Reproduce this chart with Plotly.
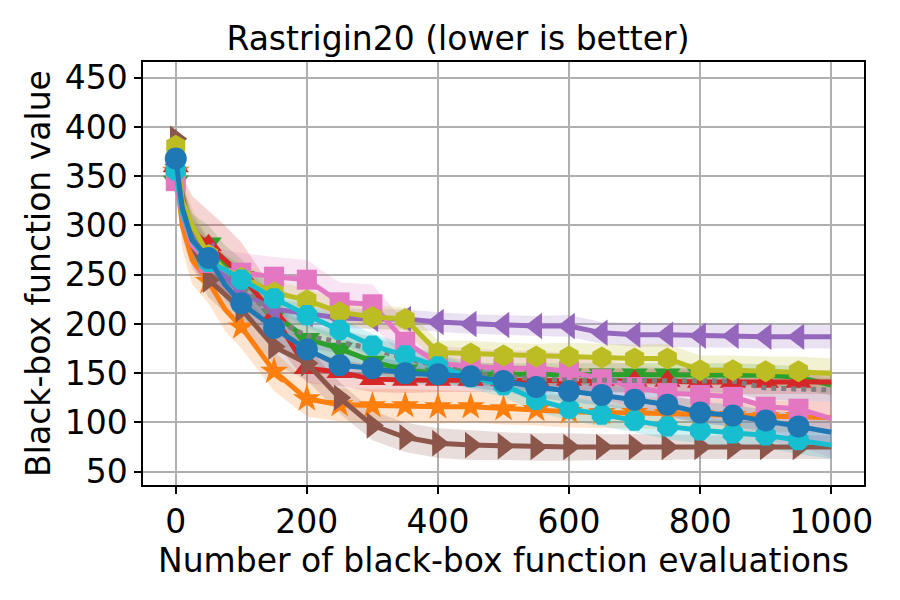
import plotly.graph_objects as go

evals = [0, 10, 25, 50, 75, 100, 150, 200, 250, 300, 350, 400, 450, 500,
         550, 600, 650, 700, 750, 800, 850, 900, 950, 1000]

# mean best-so-far values per method
blue_mean = [368, 318, 285, 267, 240, 221, 196, 174, 158, 155, 150, 149, 147, 142,
             136, 132, 128, 123, 118, 110, 107, 102, 96, 90]
orange_mean = [355, 300, 265, 243, 215, 197, 152, 124, 118, 117, 117, 116, 116, 114,
               113, 111, 110, 110, 109, 108, 107, 106, 106, 105]
green_mean = [345, 318, 292, 282, 262, 248, 210, 185, 175, 162, 153, 150, 149, 149,
              149, 149, 149, 149, 149, 149, 149, 148, 146, 138]
red_mean = [360, 320, 295, 280, 265, 250, 208, 155, 151, 144, 143, 143, 143, 143,
            143, 143, 143, 142, 142, 141, 141, 141, 141, 141]
purple_mean = [362, 322, 295, 270, 248, 232, 215, 210, 206, 205, 205, 202, 200, 199,
               198, 198, 191, 189, 189, 188, 188, 187, 187, 187]
brown_mean = [388, 330, 280, 245, 230, 215, 177, 160, 125, 97, 85, 79, 77, 76,
              75, 75, 75, 75, 75, 75, 75, 75, 75, 75]
pink_mean = [345, 310, 280, 262, 255, 252, 248, 245, 222, 220, 182, 160, 157, 155,
             155, 152, 144, 136, 130, 128, 126, 116, 114, 104]
gray_mean = [355, 318, 290, 272, 255, 240, 205, 188, 182, 175, 165, 157, 150, 147,
             144, 143, 143, 143, 143, 143, 142, 135, 134, 133]
olive_mean = [381, 325, 300, 270, 255, 247, 232, 224, 212, 207, 205, 171, 170, 168,
              167, 167, 166, 165, 165, 153, 153, 152, 152, 150]
cyan_mean = [356, 312, 285, 263, 255, 245, 226, 209, 194, 178, 168, 157, 146, 138,
             123, 114, 108, 102, 96, 92, 89, 87, 82, 77]

# spread (half width of shaded band)
blue_sd = [12, 20, 18, 14, 15, 15, 14, 13, 12, 12, 11, 11, 11, 11, 11, 11, 11, 11, 11, 11, 11, 11, 12, 12]
orange_sd = [12, 25, 25, 22, 22, 22, 20, 18, 17, 17, 17, 17, 16, 16, 16, 16, 16, 16, 16, 16, 16, 16, 16, 16]
green_sd = [12, 20, 20, 18, 18, 18, 16, 14, 13, 12, 12, 11, 11, 11, 11, 11, 11, 11, 11, 11, 11, 11, 11, 11]
red_sd = [12, 30, 35, 35, 35, 33, 25, 15, 14, 13, 13, 12, 12, 12, 12, 12, 12, 12, 12, 12, 12, 12, 12, 12]
purple_sd = [12, 20, 18, 15, 15, 15, 12, 10, 10, 10, 10, 10, 10, 10, 10, 11, 11, 12, 12, 12, 12, 12, 12, 12]
brown_sd = [12, 20, 20, 18, 18, 18, 18, 17, 16, 15, 15, 15, 15, 14, 14, 14, 13, 13, 13, 12, 12, 12, 12, 12]
pink_sd = [12, 25, 25, 22, 20, 20, 20, 20, 20, 20, 20, 18, 18, 18, 18, 18, 20, 22, 25, 28, 30, 35, 38, 40]
gray_sd = [12, 18, 18, 15, 15, 15, 13, 12, 12, 12, 12, 12, 12, 12, 12, 12, 12, 12, 12, 12, 12, 12, 12, 12]
olive_sd = [12, 20, 18, 15, 15, 15, 12, 12, 12, 12, 12, 12, 13, 13, 13, 14, 14, 14, 15, 15, 15, 15, 15, 15]
cyan_sd = [12, 18, 18, 15, 15, 14, 13, 12, 12, 12, 12, 12, 12, 12, 12, 12, 12, 12, 13, 13, 13, 13, 14, 14]

# drawing order (last one on top): name, mean, sd, color, marker, marker size, dash
series = [
    ("orange", orange_mean, orange_sd, "#ff7f0e", "star", 21, "solid"),
    ("green", green_mean, green_sd, "#2ca02c", "triangle-down", 23, "solid"),
    ("red", red_mean, red_sd, "#d62728", "triangle-up", 23, "solid"),
    ("purple", purple_mean, purple_sd, "#9467bd", "triangle-left", 23, "solid"),
    ("brown", brown_mean, brown_sd, "#8c564b", "triangle-right", 23, "solid"),
    ("pink", pink_mean, pink_sd, "#e377c2", "square", 20, "solid"),
    ("gray", gray_mean, gray_sd, "#7f7f7f", None, 0, "dot"),
    ("olive", olive_mean, olive_sd, "#bcbd22", "hexagon", 22, "solid"),
    ("cyan", cyan_mean, cyan_sd, "#17becf", "octagon", 22, "solid"),
    ("blue", blue_mean, blue_sd, "#1f77b4", "circle", 22, "solid"),
]


def rgba(hex_color, a):
    h = hex_color.lstrip("#")
    return "rgba(%d,%d,%d,%s)" % (int(h[0:2], 16), int(h[2:4], 16), int(h[4:6], 16), a)


fig = go.Figure()

# shaded bands first
for name, mean, sd, color, symbol, msize, dash in series:
    lower = [m - s for m, s in zip(mean, sd)]
    upper = [m + s for m, s in zip(mean, sd)]
    fig.add_scatter(x=evals, y=lower, mode="lines", line=dict(width=0),
                    showlegend=False, hoverinfo="skip")
    fig.add_scatter(x=evals, y=upper, mode="lines", line=dict(width=0),
                    fill="tonexty", fillcolor=rgba(color, 0.2),
                    showlegend=False, hoverinfo="skip")

# mean lines + markers every 50 evaluations
for name, mean, sd, color, symbol, msize, dash in series:
    fig.add_scatter(x=evals, y=mean, mode="lines", name=name,
                    line=dict(color=color, width=5, dash=dash), showlegend=False)
    if symbol is not None:
        mx = [e for e in evals if e % 50 == 0 and e < 1000]
        my = [m for e, m in zip(evals, mean) if e % 50 == 0 and e < 1000]
        fig.add_scatter(x=mx, y=my, mode="markers", showlegend=False,
                        marker=dict(symbol=symbol, color=color, size=msize, line=dict(width=0)))

axis_style = dict(showline=True, linecolor="black", linewidth=1.5, mirror=True,
                  ticks="outside", ticklen=7, tickwidth=1.5, tickcolor="black",
                  showgrid=True, gridcolor="#b0b0b0", gridwidth=1.5, zeroline=False,
                  automargin=False, tickfont=dict(size=33, color="black"))

fig.update_xaxes(range=[-50, 1050], tickvals=[0, 200, 400, 600, 800, 1000],
                 title=dict(text="Number of black-box function evaluations",
                            font=dict(size=33, color="black"), standoff=0),
                 **axis_style)
fig.update_yaxes(range=[36.5, 466], tickvals=[50, 100, 150, 200, 250, 300, 350, 400, 450],
                 title=dict(text="Black-box function value",
                            font=dict(size=33, color="black"), standoff=4),
                 **axis_style)

fig.update_layout(
    width=900, height=600,
    font=dict(family="DejaVu Sans", color="black"),
    title=dict(text="Rastrigin20 (lower is better)", x=0.5, xanchor="center",
               y=0.95, yanchor="middle", font=dict(size=33, color="black")),
    plot_bgcolor="white", paper_bgcolor="white",
    margin=dict(l=135, r=44, t=54, b=123),
    showlegend=False,
)

fig.write_html("out.html")
